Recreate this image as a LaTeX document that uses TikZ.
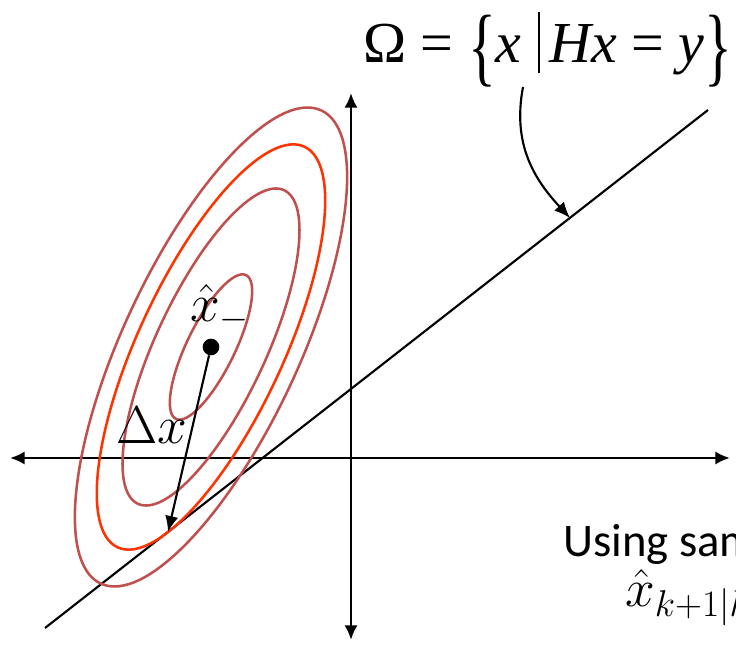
\RequirePackage{fix-cm}
\documentclass[tikz,border=0pt]{standalone}
\usepackage{graphicx}
\usepackage{fontspec}
\newfontfamily\calibri{Carlito}
\newfontfamily\timesfont{Liberation Serif}
\usetikzlibrary{arrows.meta}
\definecolor{ellbrown}{RGB}{192,80,77}
\definecolor{ellred}{RGB}{255,51,0}
\newcommand{\tallbr}[1]{\raisebox{-0.22em}{\scalebox{1}[1.5]{#1}}}
\newcommand{\setbar}{\hspace{0.28em}\raisebox{-0.17em}{\rule{0.04em}{1.05em}}\hspace{0.16em}}

\begin{document}
\begin{tikzpicture}[x=0.75pt, y=0.75pt, >=Latex,
  ell/.style={draw=ellbrown, line width=1.9pt},
  axis/.style={line width=2.1pt, {Latex[length=11pt,width=10pt]}-{Latex[length=11pt,width=10pt]}},
  dot/.style={circle, fill=black, inner sep=0pt, minimum size=12.5pt},
  lab/.style={inner sep=0pt, font=\fontsize{40}{44}\selectfont}]
\useasboundingbox (0,0) rectangle (736,650);
\clip (0,0) rectangle (736,650);
% axes
\coordinate (xl) at (10,192);
\coordinate (xr) at (730,192);
\coordinate (yt) at (351,557);
\coordinate (yb) at (351,10);
\draw[axis] (xl) -- (xr);
\draw[axis] (yb) -- (yt);
% constraint line
\coordinate (la) at (45,22);
\coordinate (lb) at (708,540);
\draw[line width=1.6pt] (la) -- (lb);
% covariance ellipses
\coordinate (c) at (211,303);
\draw[ell, rotate around={65:(c)}] (c) ellipse [x radius=261, y radius=88];
\draw[ell, draw=ellred, rotate around={65:(c)}] (c) ellipse [x radius=221, y radius=72.5];
\draw[ell, rotate around={65:(c)}] (c) ellipse [x radius=173, y radius=55];
\draw[ell, rotate around={64:(c)}] (c) ellipse [x radius=80, y radius=24];
% prior and correction
\node[dot] (xhat) at (c) {};
\coordinate (tp) at (168,118);
\draw[line width=1.6pt, -{Latex[length=12pt,width=10pt]}] (xhat) -- (tp);
\node[lab] (xlab) at (220,341) {$\hat{x}_-$};
\node[lab] (dlab) at (152,225) {$\Delta x$};
% set label
\node[anchor=base west, inner sep=0pt, font=\timesfont\fontsize{43.5}{50}\selectfont] (omega) at (363,587)
  {Ω = \tallbr{\{}\textit{x}\setbar\textit{Hx} = \textit{y}\tallbr{\}}};
\coordinate (ostart) at (523,563);
\coordinate (hit) at (570,432);
\draw[line width=1.6pt, -{Latex[length=12pt,width=10pt]}] (ostart) .. controls (512,505) and (535,470) .. (hit);
% note
\node[anchor=base west, inner sep=0pt, font=\calibri\fontsize{35}{40}\selectfont] (note) at (563,93) {Using same};
\node[anchor=base west, inner sep=0pt, font=\fontsize{40}{44}\selectfont] (post) at (625,43) {$\hat{x}_{k+1|k}$};
\end{tikzpicture}
\end{document}
